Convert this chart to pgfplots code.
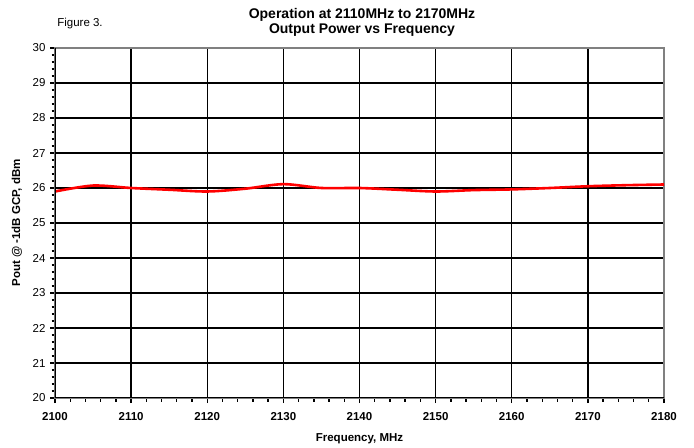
\documentclass[border=0pt]{standalone}
\usepackage{fontspec}
\setmainfont{Liberation Sans}
\usepackage{pgfplots}
\pgfplotsset{compat=1.18}
\begin{document}
\begin{tikzpicture}
\useasboundingbox (-55bp,-50bp) rectangle (639bp,398bp);
\begin{axis}[
  at={(0,0)}, anchor=south west,
  scale only axis, width=609bp, height=350bp,
  xmin=2100, xmax=2180, ymin=20, ymax=30,
  xtick={2100,2110,...,2180}, ytick={20,21,...,30},
  minor x tick num=4, minor y tick num=4,
  tick align=outside, tick pos=left,
  major tick length=5bp, minor tick length=3.5bp,
  every tick/.style={black, line width=1.4bp},
  grid=major,
  major grid style={black, line width=1.4bp},
  axis line style={draw=gray, line width=1.6bp},
  /pgf/number format/assume math mode=true,
  /pgf/number format/1000 sep={},
  xticklabel style={font=\fontsize{11.5bp}{13bp}\selectfont\bfseries, yshift=-6bp},
  yticklabel style={font=\fontsize{11.5bp}{13bp}\selectfont, xshift=-1bp},
  xlabel={Frequency, MHz},
  ylabel={Pout @ -1dB GCP, dBm},
  label style={font=\fontsize{11.5bp}{13bp}\selectfont\bfseries},
  xlabel style={yshift=-6bp},
  ylabel style={yshift=4bp},
  clip=true,
]
\addplot[red, line width=2.6bp, smooth] coordinates {
(2100,25.9) (2105,26.07) (2110,26.0) (2115,25.95) (2120,25.9) (2125,25.98)
(2130,26.11) (2135,26.0) (2140,26.0) (2145,25.95) (2150,25.9) (2155,25.94)
(2160,25.96) (2165,26.0) (2170,26.05) (2175,26.08) (2180,26.1)};
\draw[black, line width=1.6bp] (rel axis cs:0,1) -- (rel axis cs:0,0) -- (rel axis cs:1,0);
\end{axis}
\node[font=\fontsize{14bp}{15bp}\selectfont\bfseries, align=center] at (307bp,376bp)
  {Operation at 2110MHz to 2170MHz\\Output Power vs Frequency};
\node[font=\fontsize{11.5bp}{13bp}\selectfont] at (25bp,374bp) {Figure 3.};
\end{tikzpicture}
\end{document}
